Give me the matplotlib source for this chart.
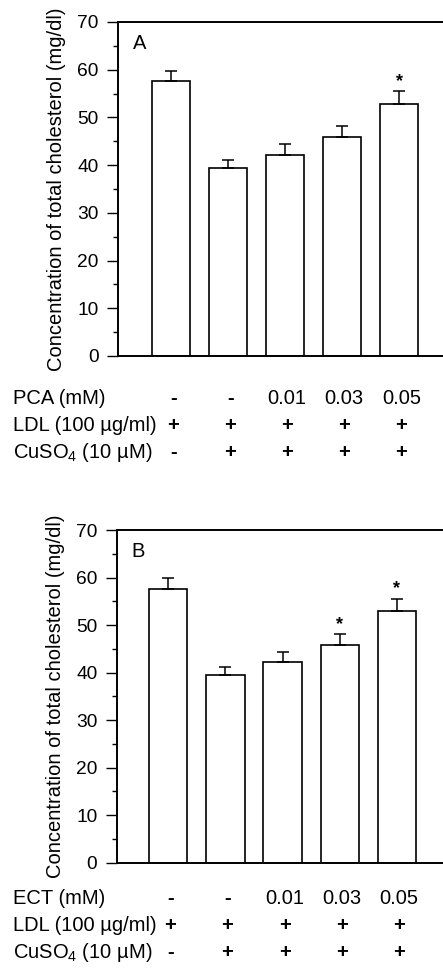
import matplotlib
matplotlib.use("Agg")
import matplotlib.pyplot as plt
import matplotlib.transforms as mtransforms
from matplotlib.ticker import MultipleLocator
import numpy as np

plt.rcParams['font.family'] = ['Liberation Sans', 'DejaVu Sans']
plt.rcParams['mathtext.default'] = 'regular'

# ---- data ----
groups = ["1", "2", "3", "4", "5"]
means_A = [57.6, 39.4, 42.2, 45.8, 52.9]
err_A = [2.2, 1.6, 2.2, 2.3, 2.6]
sig_A = [False, False, False, False, True]

means_B = [57.6, 39.5, 42.2, 45.8, 52.9]
err_B = [2.2, 1.6, 2.2, 2.3, 2.6]
sig_B = [False, False, False, True, True]

row_labels_A = ["PCA (mM)", "LDL (100 µg/ml)", "CuSO$_4$ (10 µM)"]
row_labels_B = ["ECT (mM)", "LDL (100 µg/ml)", "CuSO$_4$ (10 µM)"]
row_conc = ["-", "-", "0.01", "0.03", "0.05"]
row_ldl = ["+", "+", "+", "+", "+"]
row_cuso4 = ["-", "+", "+", "+", "+"]

ylabel = "Concentration of total cholesterol (mg/dl)"

W, H = 443, 971
fig = plt.figure(figsize=(W / 100, H / 100), dpi=100)


def px_ax(left, top, right, bottom):
    return fig.add_axes([left / W, 1 - bottom / H, (right - left) / W, (bottom - top) / H])


def panel(ax, means, errs, sigs, letter, xlim, row_labels, row_ys):
    x = np.arange(len(groups))
    ax.bar(x, means, width=0.67, color='white', edgecolor='black', linewidth=1.2, zorder=2)
    ax.errorbar(x, means, yerr=[np.zeros(len(errs)), errs], fmt='none',
                ecolor='black', elinewidth=1.1, capsize=4.3, capthick=1.1, zorder=3)
    for xi, m, e, s in zip(x, means, errs, sigs):
        if s:
            ax.annotate('*', (xi, m + e), xytext=(0, 1), textcoords='offset points',
                        ha='center', va='bottom', fontsize=13, fontweight='bold')
    ax.set_xlim(*xlim)
    ax.set_ylim(0, 70)
    ax.yaxis.set_major_locator(MultipleLocator(10))
    ax.yaxis.set_minor_locator(MultipleLocator(5))
    ax.tick_params(axis='y', which='major', length=8, width=1.0, direction='out',
                   labelsize=13.8, pad=6)
    ax.tick_params(axis='y', which='minor', length=3.8, width=1.0, direction='out')
    ax.set_xticks([])
    ax.spines['right'].set_visible(False)
    for sp in ['left', 'top', 'bottom']:
        ax.spines[sp].set_linewidth(1.4)
    ax.set_ylabel(ylabel, fontsize=14.5, labelpad=8)
    ax.text(0.045, 0.935, letter, transform=ax.transAxes, fontsize=14.5,
            ha='left', va='center')

    # condition table below
    rows = [row_conc, row_ldl, row_cuso4]
    off = mtransforms.ScaledTranslation(2 / 100, 0, fig.dpi_scale_trans)
    tr = mtransforms.blended_transform_factory(ax.transData, fig.transFigure) + off
    for lab, vals, ypx in zip(row_labels, rows, row_ys):
        yf = 1 - ypx / H
        fig.text(13 / W, yf, lab, ha='left', va='center', fontsize=14.5)
        for xi, v in zip(x, vals):
            ax.text(xi, yf, v, ha='center', va='center', fontsize=14.5,
                    fontweight='bold' if v in ('+', '-') else 'normal',
                    transform=tr, clip_on=False)


axA = px_ax(118, 22, 445, 356)
panel(axA, means_A, err_A, sig_A, 'A', (-0.93, 4.8), row_labels_A, [398, 425, 452])

axB = px_ax(116.7, 530, 445, 862.7)
panel(axB, means_B, err_B, sig_B, 'B', (-0.90, 4.84), row_labels_B, [898, 925, 952])

fig.savefig("out.png", dpi=100)
